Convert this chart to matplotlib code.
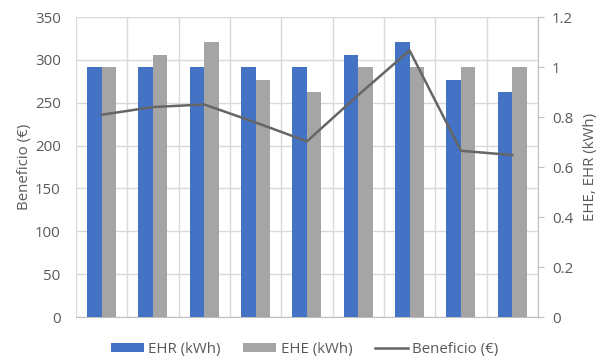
import matplotlib
import numpy as np

matplotlib.use('Agg')
import matplotlib.pyplot as plt

plt.rcParams['font.family'] = ['Open Sans', 'DejaVu Sans']

# energy per case (kWh) and profit (EUR)
ehr = [1.0, 1.0, 1.0, 1.0, 1.0, 1.05, 1.1, 0.95, 0.9]
ehe = [1.0, 1.05, 1.1, 0.95, 0.9, 1.0, 1.0, 1.0, 1.0]
beneficio = [236, 245, 248, 227, 205, 259, 311, 194, 189]

left_ticks = [0, 50, 100, 150, 200, 250, 300, 350]
right_ticks = [0, 0.2, 0.4, 0.6, 0.8, 1.0, 1.2]
right_labels = ['0', '0.2', '0.4', '0.6', '0.8', '1', '1.2']

txt = '#595959'
grid = '#d9d9d9'
blue = '#4472c4'
gray = '#a5a5a5'
line_c = '#666666'
fs = 10.8

fig = plt.figure(figsize=(6.03, 3.62), dpi=100)
ax = fig.add_axes([0.126, 0.124, 0.766, 0.829])
x = np.arange(len(ehr))

# left axis: grid + Beneficio scale
ax.set_xlim(-0.5, len(ehr) - 0.5)
ax.set_ylim(0, 350)
ax.set_yticks(left_ticks)
ax.set_xticks(np.arange(-0.5, len(ehr), 1.0))
ax.set_xticklabels([])
ax.tick_params(axis='x', length=0)
ax.tick_params(axis='y', length=0, labelsize=fs, labelcolor=txt, pad=11)
ax.grid(True, color=grid, linewidth=1)
ax.set_axisbelow(True)
for s in ['top', 'right', 'left']:
    ax.spines[s].set_visible(False)
ax.spines['bottom'].set_color('#bfbfbf')
ax.set_ylabel('Beneficio (€)', fontsize=fs, color=txt, labelpad=2)

# bars on the kWh axis
ax2 = ax.twinx()
w = 0.283
ax2.bar(x - w / 2, ehr, width=w, color=blue, label='EHR (kWh)')
ax2.bar(x + w / 2, ehe, width=w, color=gray, label='EHE (kWh)')
ax2.set_ylim(0, 1.2)
ax2.set_yticks(right_ticks)
ax2.set_yticklabels(right_labels)
ax2.tick_params(axis='y', length=4, color='#bfbfbf', labelsize=fs, labelcolor=txt, pad=6)
for s in ['top', 'left', 'bottom']:
    ax2.spines[s].set_visible(False)
ax2.spines['right'].set_color('#bfbfbf')
ax2.set_ylabel('EHE, EHR (kWh)', fontsize=fs, color=txt, labelpad=7)

# profit line on top, same scale as the left axis
ax3 = ax.twinx()
ax3.plot(x, beneficio, color=line_c, linewidth=1.8, label='Beneficio (€)')
ax3.set_ylim(0, 350)
ax3.set_xlim(-0.5, len(ehr) - 0.5)
ax3.axis('off')

h2, l2 = ax2.get_legend_handles_labels()
h3, l3 = ax3.get_legend_handles_labels()
leg = ax3.legend(h2 + h3, l2 + l3, loc='center', ncol=3, frameon=False,
                 fontsize=fs, handlelength=2.2, handleheight=0.5,
                 columnspacing=1.5, handletextpad=0.3,
                 bbox_to_anchor=(0.505, 0.035), bbox_transform=fig.transFigure)
for t in leg.get_texts():
    t.set_color(txt)

fig.savefig('out.png', dpi=100)
